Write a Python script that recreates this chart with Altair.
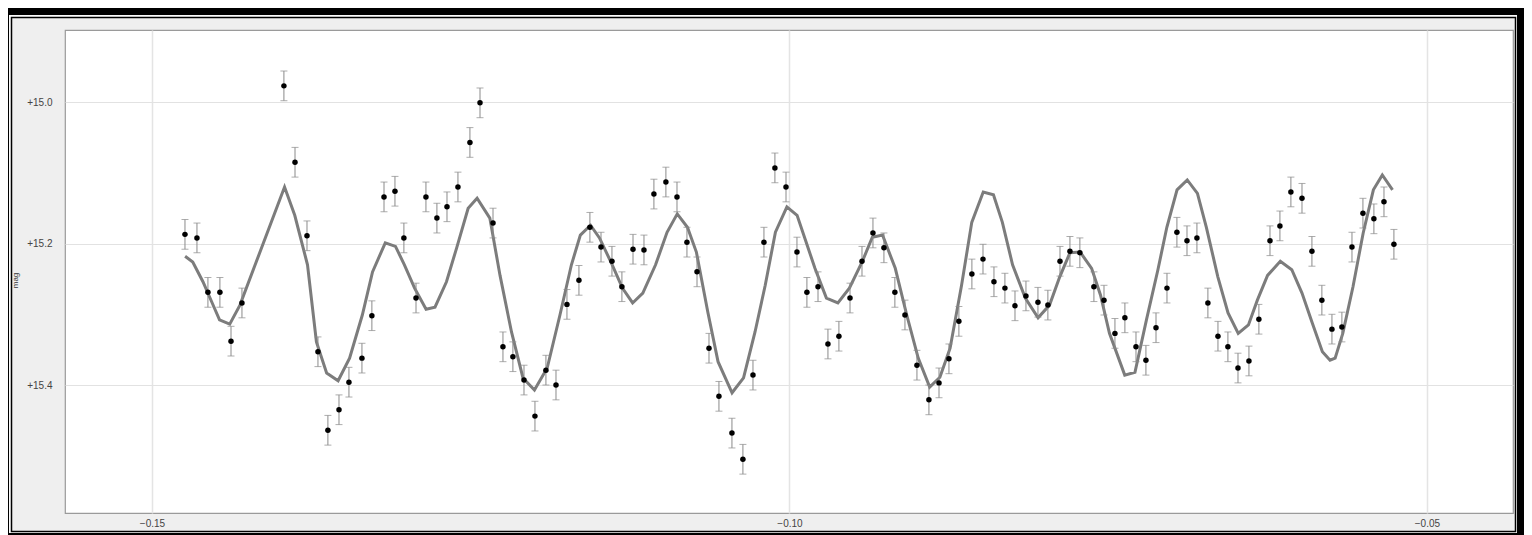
import altair as alt
import pandas as pd

# Observed magnitudes (phase, mag, error)
obs_phase = [
    -0.14741, -0.14647, -0.14561, -0.14467, -0.14380, -0.14294, -0.13965, -0.13878,
    -0.13784, -0.13698, -0.13620, -0.13533, -0.13455, -0.13353, -0.13275, -0.13180,
    -0.13094, -0.13024, -0.12929, -0.12851, -0.12765, -0.12686, -0.12600, -0.12506,
    -0.12427, -0.12325, -0.12247, -0.12169, -0.12082, -0.11996, -0.11910, -0.11831,
    -0.11745, -0.11651, -0.11565, -0.11478, -0.11392, -0.11314, -0.11227, -0.11141,
    -0.11063, -0.10969, -0.10882, -0.10804, -0.10725, -0.10631, -0.10553, -0.10451,
    -0.10365, -0.10286, -0.10200, -0.10114, -0.10027, -0.09941, -0.09863, -0.09776,
    -0.09698, -0.09612, -0.09525, -0.09431, -0.09345, -0.09259, -0.09173, -0.09094,
    -0.09000, -0.08906, -0.08827, -0.08749, -0.08671, -0.08569, -0.08482, -0.08396,
    -0.08310, -0.08231, -0.08145, -0.08051, -0.07973, -0.07878, -0.07800, -0.07722,
    -0.07612, -0.07533, -0.07447, -0.07369, -0.07282, -0.07204, -0.07125, -0.07039,
    -0.06961, -0.06882, -0.06804, -0.06718, -0.06639, -0.06561, -0.06482, -0.06396,
    -0.06318, -0.06231, -0.06153, -0.06067, -0.05980, -0.05902, -0.05824, -0.05745,
    -0.05667, -0.05588, -0.05502, -0.05416, -0.05337, -0.05259,
]
obs_mag = [
    15.187, 15.192, 15.269, 15.269, 15.338, 15.284, 14.977, 15.085,
    15.189, 15.353, 15.464, 15.435, 15.396, 15.362, 15.302, 15.134,
    15.126, 15.192, 15.277, 15.134, 15.164, 15.148, 15.120, 15.057,
    15.001, 15.171, 15.346, 15.360, 15.393, 15.444, 15.379, 15.400,
    15.286, 15.252, 15.177, 15.205, 15.225, 15.261, 15.208, 15.209,
    15.130, 15.113, 15.134, 15.198, 15.240, 15.348, 15.416, 15.468,
    15.505, 15.386, 15.198, 15.093, 15.120, 15.212, 15.269, 15.261,
    15.342, 15.331, 15.277, 15.225, 15.185, 15.206, 15.269, 15.301,
    15.372, 15.421, 15.397, 15.363, 15.310, 15.243, 15.222, 15.254,
    15.263, 15.288, 15.274, 15.283, 15.287, 15.225, 15.211, 15.213,
    15.261, 15.280, 15.327, 15.305, 15.346, 15.365, 15.319, 15.263,
    15.184, 15.196, 15.192, 15.284, 15.331, 15.346, 15.376, 15.366,
    15.307, 15.196, 15.175, 15.127, 15.136, 15.211, 15.280, 15.321,
    15.318, 15.205, 15.157, 15.165, 15.141, 15.201,
]
obs_err = [0.021] * len(obs_mag)

# Model light curve
model_phase = [
    -0.1474, -0.1468, -0.1460, -0.1453, -0.1447, -0.1439, -0.1431, -0.1396, -0.1388, -0.1378,
    -0.1371, -0.1363, -0.1354, -0.1345, -0.1335, -0.1327, -0.1317, -0.1309, -0.1302, -0.1294,
    -0.1285, -0.1278, -0.1269, -0.1261, -0.1252, -0.1245, -0.1235, -0.1227, -0.1218, -0.1209,
    -0.1200, -0.1190, -0.1180, -0.1171, -0.1164, -0.1156, -0.1149, -0.1139, -0.1131, -0.1123,
    -0.1115, -0.1105, -0.1096, -0.1088, -0.1080, -0.1073, -0.1064, -0.1056, -0.1045, -0.1036,
    -0.1027, -0.1019, -0.1011, -0.1002, -0.0994, -0.0988, -0.0980, -0.0971, -0.0962, -0.0953,
    -0.0943, -0.0935, -0.0927, -0.0917, -0.0908, -0.0899, -0.0890, -0.0882, -0.0874, -0.0865,
    -0.0857, -0.0848, -0.0840, -0.0833, -0.0825, -0.0815, -0.0805, -0.0796, -0.0788, -0.0780,
    -0.0772, -0.0763, -0.0756, -0.0749, -0.0737, -0.0729, -0.0720, -0.0711, -0.0704, -0.0696,
    -0.0688, -0.0680, -0.0673, -0.0664, -0.0656, -0.0648, -0.0640, -0.0633, -0.0625, -0.0615,
    -0.0606, -0.0598, -0.0590, -0.0582, -0.0576, -0.0572, -0.0566, -0.0558, -0.0550, -0.0542,
    -0.0535, -0.0527,
]
model_mag = [
    15.218, 15.226, 15.254, 15.283, 15.308, 15.314, 15.287, 15.120, 15.160, 15.230,
    15.339, 15.383, 15.394, 15.362, 15.301, 15.240, 15.199, 15.204, 15.230, 15.263,
    15.293, 15.290, 15.254, 15.206, 15.150, 15.136, 15.164, 15.245, 15.325, 15.390,
    15.407, 15.376, 15.301, 15.230, 15.188, 15.174, 15.192, 15.230, 15.263, 15.284,
    15.270, 15.230, 15.184, 15.158, 15.177, 15.212, 15.297, 15.367, 15.411, 15.390,
    15.325, 15.259, 15.184, 15.148, 15.160, 15.192, 15.235, 15.277, 15.284, 15.263,
    15.226, 15.191, 15.188, 15.235, 15.301, 15.362, 15.403, 15.389, 15.348, 15.259,
    15.170, 15.127, 15.131, 15.170, 15.230, 15.277, 15.305, 15.287, 15.247, 15.213,
    15.212, 15.235, 15.273, 15.327, 15.386, 15.382, 15.308, 15.237, 15.177, 15.124,
    15.110, 15.129, 15.177, 15.247, 15.298, 15.327, 15.315, 15.280, 15.245, 15.225,
    15.237, 15.270, 15.312, 15.353, 15.365, 15.362, 15.327, 15.261, 15.185, 15.124,
    15.103, 15.124,
]

x_ticks = [-0.15, -0.10, -0.05]
y_ticks = [15.0, 15.2, 15.4]
x_domain = [-0.15682, -0.04325]
y_domain = [14.898, 15.581]

obs = pd.DataFrame({"phase": obs_phase, "mag": obs_mag, "err": obs_err})
model = pd.DataFrame({"phase": model_phase, "mag": model_mag})

W, H = 1448, 483

xscale = alt.Scale(domain=x_domain, nice=False, zero=False)
yscale = alt.Scale(domain=y_domain, nice=False, zero=False, reverse=True)

xaxis = alt.Axis(values=x_ticks, format=".2f", title=None, domain=False, ticks=False,
                 grid=True, gridColor="#e4e4e4", gridWidth=1.5,
                 labelFont="Liberation Sans", labelFontSize=10, labelColor="#444444",
                 labelPadding=5)
yaxis = alt.Axis(values=y_ticks, format="+.1f", title="mag", domain=False, ticks=False,
                 grid=True, gridColor="#e2e2e2", gridWidth=1.2,
                 labelFont="Liberation Sans", labelFontSize=10, labelColor="#444444",
                 labelPadding=13, titleFont="Liberation Sans", titleFontSize=8,
                 titleFontWeight="normal", titleColor="#333333", titleAngle=270,
                 titleX=-50, titleY=250, titleAlign="center", titleBaseline="middle")

base = alt.Chart(obs)

model_line = alt.Chart(model).mark_line(color="#7c7c7c", strokeWidth=3).encode(
    x=alt.X("phase:Q", scale=xscale, axis=xaxis),
    y=alt.Y("mag:Q", scale=yscale, axis=yaxis),
    order="phase:Q",
)

err = base.transform_calculate(lo="datum.mag - datum.err", hi="datum.mag + datum.err")

bars = err.mark_rule(color="#8a8a8a", strokeWidth=1).encode(
    x=alt.X("phase:Q", scale=xscale),
    y=alt.Y("lo:Q", scale=yscale),
    y2="hi:Q",
)
cap_lo = err.mark_tick(color="#8a8a8a", orient="horizontal", size=7, thickness=1).encode(
    x=alt.X("phase:Q", scale=xscale),
    y=alt.Y("lo:Q", scale=yscale),
)
cap_hi = err.mark_tick(color="#8a8a8a", orient="horizontal", size=7, thickness=1).encode(
    x=alt.X("phase:Q", scale=xscale),
    y=alt.Y("hi:Q", scale=yscale),
)
points = base.mark_circle(color="#000000", opacity=1, size=30).encode(
    x=alt.X("phase:Q", scale=xscale),
    y=alt.Y("mag:Q", scale=yscale),
)

frame_data = alt.Data(values=[{"k": 1}])


def frame_rect(x0, x1, y0, y1, color):
    return alt.Chart(frame_data).mark_rect(color=color).encode(
        x=alt.value(x0), x2=alt.value(x1), y=alt.value(y0), y2=alt.value(y1)
    )


def frame_box(x0, x1, y0, y1, color, sw):
    return alt.Chart(frame_data).mark_rect(fill="transparent", stroke=color, strokeWidth=sw).encode(
        x=alt.value(x0), x2=alt.value(x1), y=alt.value(y0), y2=alt.value(y1)
    )


frame = [
    frame_box(-55, 1451, -14, 502, "#ffffff", 1.5),
    frame_box(-53.5, 1450.5, -12.5, 501.5, "#000000", 1.5),
    frame_rect(-65, 1462, -24, -15, "#000000"),
    frame_rect(-65, -56, -24, 505, "#000000"),
    frame_rect(1452, 1462, -24, 505, "#000000"),
    frame_rect(-65, 1462, 503, 506, "#000000"),
]

chart = alt.layer(model_line, bars, cap_lo, cap_hi, points, *frame).properties(
    width=W, height=H,
    autosize=alt.AutoSizeParams(type="none"),
    padding={"left": 57, "top": 22, "right": 11, "bottom": 22},
    background="#efefef",
).configure_view(
    fill="#ffffff", stroke="#9a9a9a", strokeWidth=1.2
)

chart.save("out.html", embed_options={"renderer": "svg", "actions": False})
